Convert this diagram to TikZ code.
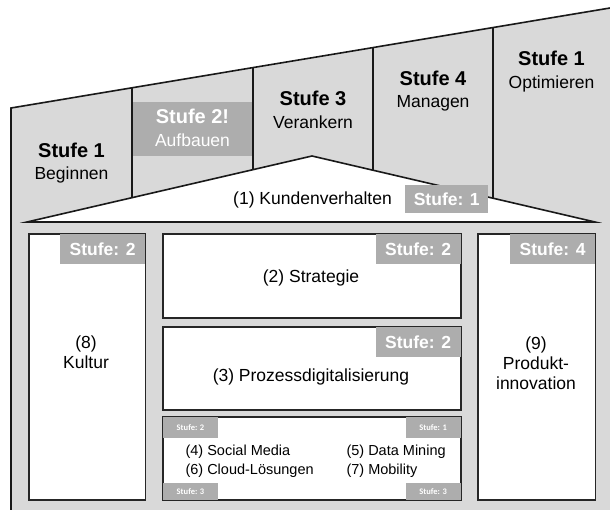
\documentclass[tikz,border=0pt]{standalone}
\usepackage{fontspec}
\setmainfont{Liberation Sans}
\newfontfamily\tinyfont{Carlito}
\definecolor{bggray}{HTML}{D9D9D9}
\definecolor{lblgray}{HTML}{ADADAD}
\begin{document}
\begin{tikzpicture}[x=1pt,y=-1pt,
  edge/.style={draw=black!90,line width=1.6pt},
  panel/.style={draw=black!85,line width=1.6pt,fill=white,inner sep=0pt,anchor=north west},
  lbl/.style={fill=lblgray,text=white,font=\fontsize{17.5}{20}\selectfont\bfseries,inner sep=0pt,anchor=north east,minimum height=30pt,minimum width=85pt},
  tlbl/.style={fill=lblgray,text=white,font=\tinyfont\fontsize{8.5}{10}\selectfont\bfseries,inner sep=0pt,minimum width=55pt},
  head/.style={anchor=base,font=\fontsize{20}{24}\selectfont\bfseries},
  sub/.style={anchor=base,font=\fontsize{17.5}{21}\selectfont},
  body/.style={font=\fontsize{17.5}{20}\selectfont,align=center},
  item/.style={anchor=base west,font=\fontsize{14.5}{17}\selectfont}]
\useasboundingbox (0,0) rectangle (610,510);
% house body
\coordinate (bl) at (11,510);
\coordinate (rl) at (11,108);
\coordinate (rr) at (610,8);
\fill[bggray] (bl) -- (rl) -- (rr) -- (610,510) -- cycle;
% dividers
\coordinate (d1t) at (132,87.8);  \coordinate (d1b) at (132,197.7);
\coordinate (d2t) at (253,67.6);  \coordinate (d2b) at (253,169.7);
\coordinate (d3t) at (373,47.6);  \coordinate (d3b) at (373,170.2);
\coordinate (d4t) at (493,27.5);  \coordinate (d4b) at (493,198.2);
% Stufe 2 highlight
\node[fill=lblgray,inner sep=0pt,minimum width=119pt,minimum height=54pt,anchor=north west] (s2box) at (133,102) {};
\foreach \i in {1,2,3,4} \draw[edge] (d\i t) -- (d\i b);
\draw[edge] (bl) -- (rl) -- (rr);
% roof triangle
\coordinate (tl) at (27,222);
\coordinate (ta) at (312,156);
\coordinate (tr) at (595,222);
\draw[edge,fill=white] (tl) -- (ta) -- (tr) -- cycle;
% column texts
\node[head] (h1) at (71.5,158) {Stufe 1};
\node[sub]  (s1) at (71.5,180) {Beginnen};
\node[head,text=white] (h2) at (192.5,124) {Stufe 2!};
\node[sub,text=white]  (s2) at (192.5,147) {Aufbauen};
\node[head] (h3) at (313,106) {Stufe 3};
\node[sub]  (s3) at (313,129) {Verankern};
\node[head] (h4) at (433,86) {Stufe 4};
\node[sub]  (s4) at (433,108) {Managen};
\node[head] (h5) at (551.5,66) {Stufe 1};
\node[sub]  (s5) at (551.5,89) {Optimieren};
% Kundenverhalten
\node[sub] (k1) at (312.5,205) {(1) Kundenverhalten};
\node[lbl,minimum width=83pt,minimum height=28pt,anchor=north west] (k1l) at (405,185) {Stufe: 1};
% panels
\node[panel,minimum width=116.5pt,minimum height=266pt] (kult) at (28,233) {};
\node[panel,minimum width=298pt,minimum height=84pt] (strat) at (162,233) {};
\node[panel,minimum width=298pt,minimum height=83pt] (proz) at (162,326) {};
\node[panel,minimum width=298pt,minimum height=83pt] (tech) at (162,416) {};
\node[panel,minimum width=117.5pt,minimum height=266pt] (prod) at (477,233) {};
% labels
\node[lbl] (kultl) at ([shift={(-0.8,0.8)}]kult.north east) {Stufe: 2};
\node[lbl] (stratl) at ([shift={(-0.8,0.8)}]strat.north east) {Stufe: 2};
\node[lbl] (prozl) at ([shift={(-0.8,0.8)}]proz.north east) {Stufe: 2};
\node[lbl] (prodl) at ([shift={(-0.8,0.8)}]prod.north east) {Stufe: 4};
\node[tlbl,minimum height=21pt,anchor=north west] (tl1) at ([shift={(0.8,0.8)}]tech.north west) {Stufe: 2};
\node[tlbl,minimum height=21pt,anchor=north east] (tl2) at ([shift={(-0.8,0.8)}]tech.north east) {Stufe: 1};
\node[tlbl,minimum height=17pt,anchor=south west] (tl3) at ([shift={(0.8,-0.8)}]tech.south west) {Stufe: 3};
\node[tlbl,minimum height=17pt,anchor=south east] (tl4) at ([shift={(-0.8,-0.8)}]tech.south east) {Stufe: 3};
% panel texts
\node[body] (t8) at (86,352) {(8)\\Kultur};
\node[body] (t9) at (536,363) {(9)\\Produkt-\\innovation};
\node[body] (t2) at (311,278) {(2) Strategie};
\node[body] (t3) at (311,377) {(3) Prozessdigitalisierung};
\node[item] (t4) at (182,455) {(4) Social Media};
\node[item] (t5) at (343,455) {(5) Data Mining};
\node[item] (t6) at (182,474) {(6) Cloud-Lösungen};
\node[item] (t7) at (343,474) {(7) Mobility};
\end{tikzpicture}
\end{document}
